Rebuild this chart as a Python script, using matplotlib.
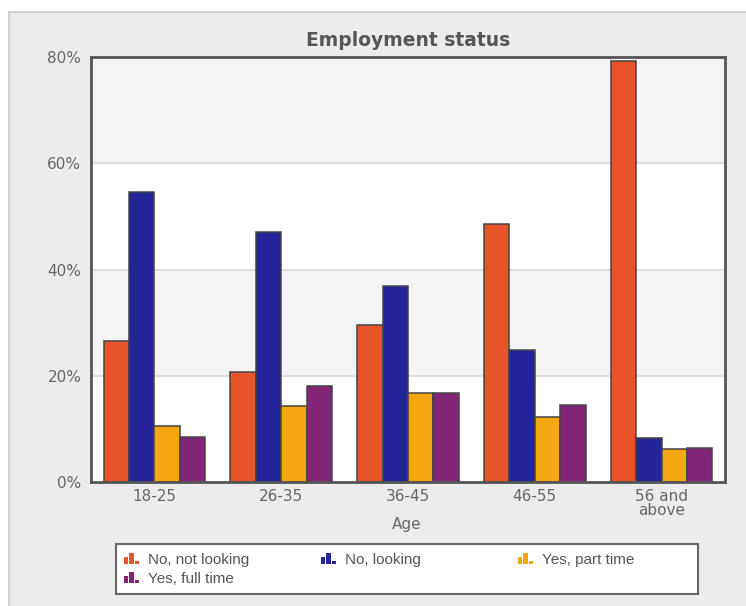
import numpy as np
import matplotlib.pyplot as plt
from matplotlib.patches import Rectangle
from matplotlib.legend_handler import HandlerBase

plt.rcParams['font.family'] = 'DejaVu Sans'

ages = ['18-25', '26-35', '36-45', '46-55', '56 and\nabove']
series = ['No, not looking', 'No, looking', 'Yes, part time', 'Yes, full time']
not_looking = [26.5, 20.7, 29.6, 48.6, 79.3]
looking = [54.6, 47.1, 36.9, 24.9, 8.3]
part_time = [10.5, 14.3, 16.8, 12.2, 6.2]
full_time = [8.5, 18.1, 16.8, 14.5, 6.4]
colors = ['#e8542a', '#25259a', '#f5a712', '#832677']

values = [not_looking, looking, part_time, full_time]


class BarIconHandler(HandlerBase):
    # small three-bar icon like the original legend
    def create_artists(self, legend, orig_handle, xdescent, ydescent,
                       width, height, fontsize, trans):
        c = orig_handle.patches[0].get_facecolor()
        w = width / 3.5
        hs = [0.7, 1.0, 0.3]
        arts = []
        for i, h in enumerate(hs):
            r = Rectangle((-xdescent + i * w * 1.25, -ydescent), w, height * h,
                          facecolor=c, edgecolor='none', transform=trans)
            arts.append(r)
        return arts


fig = plt.figure(figsize=(7.46, 6.06), dpi=100)
fig.patch.set_facecolor('white')
W, H = 746, 606
fig.patches.append(Rectangle((9 / W, -0.01), 1.0, (H - 12) / H + 0.01,
                             transform=fig.transFigure, facecolor='#ececec',
                             edgecolor='#c8c8c8', linewidth=1.2, zorder=-10))
# legend box
fig.patches.append(Rectangle((116 / W, 1 - 594 / H), 582 / W, 50 / H,
                             transform=fig.transFigure, facecolor='white',
                             edgecolor='#666666', linewidth=1.5, zorder=-5))

ax = fig.add_axes([91 / W, (H - 482) / H, 634 / W, 425 / H])
ax.set_facecolor('white')
for lo, hi in [(20, 40), (60, 80)]:
    ax.axhspan(lo, hi, color='#f4f4f4', zorder=0, linewidth=0)
for y in [20, 40, 60]:
    ax.axhline(y, color='#d9d9d9', linewidth=1.2, zorder=0.5)

x = np.arange(len(ages))
bw = 0.2
for i, (vals, col) in enumerate(zip(values, colors)):
    ax.bar(x + (i - 1.5) * bw, vals, bw, color=col, edgecolor='#444444',
           linewidth=1.1, label=series[i], zorder=2)

ax.set_xlim(-0.5, 4.5)
ax.set_ylim(0, 80)
ax.set_yticks([0, 20, 40, 60, 80])
ax.set_yticklabels(['0%', '20%', '40%', '60%', '80%'])
ax.set_xticks(x)
ax.set_xticklabels(ages, linespacing=0.95)
ax.tick_params(length=0, colors='#666666', labelsize=11)
ax.tick_params(axis='y', pad=7)
ax.tick_params(axis='x', pad=5)
for s in ax.spines.values():
    s.set_color('#555555')
    s.set_linewidth(2)

fig.text(407 / W, 1 - 525 / H, 'Age', ha='center', va='center',
         color='#666666', fontsize=11)
fig.text(408 / W, 1 - 40 / H, 'Employment status', ha='center', va='center',
         color='#555555', fontsize=13.5, fontweight='bold')

handles, labels = ax.get_legend_handles_labels()
hmap = {h: BarIconHandler() for h in handles}
cols = [([0, 3], 124), ([1], 321), ([2], 518)]
for idx, xl in cols:
    leg = fig.legend([handles[i] for i in idx], [labels[i] for i in idx],
                     handler_map=hmap, loc='upper left',
                     bbox_to_anchor=(xl / W, 1 - 553 / H),
                     frameon=False,
                     prop={'family': 'Liberation Sans', 'size': 11},
                     handlelength=1.0, handleheight=0.7, handletextpad=0.55,
                     labelspacing=0.33, borderpad=0, borderaxespad=0)
    for t in leg.get_texts():
        t.set_color('#555555')

fig.savefig('out.png', dpi=100)
